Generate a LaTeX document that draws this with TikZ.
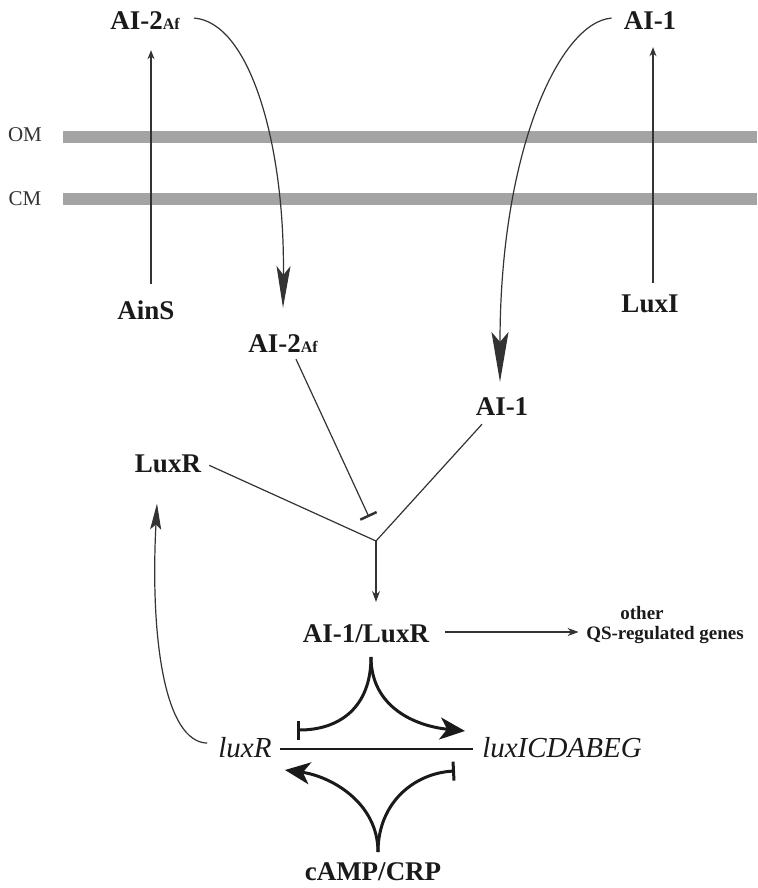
\documentclass[tikz,border=0pt]{standalone}
\usepackage{fontspec}
\setmainfont{Liberation Serif}
\usetikzlibrary{arrows.meta,calc}
\definecolor{ink}{HTML}{1A1A1A}
\definecolor{wire}{HTML}{333333}
\definecolor{membrane}{HTML}{A4A4A4}
\tikzset{
  lbl/.style={anchor=base, inner sep=2pt, text=ink, font=\fontsize{27}{31}\selectfont\bfseries},
  gene/.style={anchor=base, inner sep=2pt, text=ink, font=\fontsize{29}{33}\selectfont\itshape},
  note/.style={anchor=base, inner sep=0.5pt, text=ink, font=\fontsize{19}{22}\selectfont\bfseries},
  memlbl/.style={anchor=base, inner sep=2pt, text=wire, font=\fontsize{21}{24}\selectfont},
  wireline/.style={draw=wire, line width=1.2pt, line join=round},
  uparrow/.style={wireline, -{Stealth[length=9pt,width=7pt]}},
  smallarrow/.style={wireline, -{Stealth[length=11pt,width=8pt]}},
  cusp/.style={draw=ink, line width=3pt},
  cusparrow/.style={cusp, -{Stealth[length=25pt,width=22pt,inset=7pt]}},
  cuspbar/.style={cusp, -{Bar[width=19pt]}}
}
\newcommand{\subAf}{{\fontsize{16}{16}\selectfont Af}}
\begin{document}
\begin{tikzpicture}[x=1pt,y=-1pt]
\useasboundingbox (0,0) rectangle (757,888);

% membranes
\fill[membrane] (63,131) rectangle (757,142.5);
\fill[membrane] (63,193) rectangle (757,204.5);
\node[memlbl] (om) at (25,142) {OM};
\node[memlbl] (cm) at (25,205) {CM};

% signals and enzymes
\node[lbl] (ai2o) at (145,30) {AI-2\subAf};
\node[lbl] (ai1o) at (650,30) {AI-1};
\node[lbl] (ains) at (146,319) {AinS};
\node[lbl] (luxi) at (650,312) {LuxI};
\node[lbl] (ai2i) at (283,352) {AI-2\subAf};
\node[lbl] (ai1i) at (502,415) {AI-1};
\node[lbl] (luxrp) at (168,472) {LuxR};
\node[lbl] (cplx) at (366,642) {AI-1/LuxR};
\node[note] (oth) at (642,619) {other};
\node[note] (qs) at (665,639) {QS-regulated genes};
\node[gene] (luxrg) at (245,757) {luxR};
\node[gene] (luxop) at (562,757) {luxICDABEG};
\node[lbl] (camp) at (373,880) {cAMP/CRP};

% synthesis and export
\draw[uparrow] ([xshift=5pt,yshift=14pt]ains.north) -- ([xshift=6pt,yshift=-18pt]ai2o.south);
\draw[uparrow] ([xshift=3pt,yshift=9pt]luxi.north) -- ([xshift=3pt,yshift=-15pt]ai1o.south);

% diffusion back into the cell
\draw[wireline, -{Stealth[length=42pt,width=14pt,inset=9pt]}]
  ([xshift=12pt,yshift=3pt]ai2o.east) .. controls (250,22) and (285,145) .. ([yshift=24pt]ai2i.north);
\draw[wireline, -{Stealth[length=50pt,width=17pt,inset=10pt]}]
  ([xshift=-10pt,yshift=3pt]ai1o.west) .. controls (560,22) and (500,150) .. ([xshift=-2pt,yshift=13pt]ai1i.north);

% LuxR feedback
\draw[wireline, -{Stealth[length=26pt,width=11pt,inset=5pt]}]
  ([xshift=-9pt,yshift=4pt]luxrg.west) .. controls (165,742) and (150,640) .. ([xshift=-11pt,yshift=-29pt]luxrp.south);

% complex formation
\coordinate (jn) at (376,541);
\coordinate (inh) at (369,517);
\draw[wireline] ([xshift=6pt,yshift=-2pt]luxrp.east) -- (jn) -- ([xshift=-20pt,yshift=-7pt]ai1i.south);
\draw[wireline, -{Bar[width=18pt,line width=2.5pt]}] ([xshift=13pt,yshift=-5pt]ai2i.south) -- (inh);
\draw[smallarrow] (jn) -- ([xshift=10pt,yshift=20pt]cplx.north);

% other targets
\coordinate (oa) at ([xshift=14pt,yshift=10pt]cplx.base east);
\draw[smallarrow] (oa) -- ([xshift=-7pt]qs.west |- oa);

% lux operon regulation
\coordinate (hl) at ([xshift=6pt,yshift=8pt]luxrg.base east);
\draw[draw=ink, line width=2.5pt] (hl) -- ([xshift=-7pt]luxop.west |- hl);

\coordinate (uc) at ([xshift=5pt,yshift=-15pt]cplx.base);
\coordinate (ulb) at (297,730);
\coordinate (ura) at (465,731);
\draw[cuspbar] (uc) .. controls +(0,50) and +(43,0) .. (ulb);
\draw[cusparrow] (uc) .. controls +(0,50) and +(-50,-5) .. (ura);

\coordinate (lc) at ([xshift=5pt,yshift=28pt]camp.base);
\coordinate (lla) at (285,770);
\coordinate (lrb) at (455,771);
\draw[cusparrow] (lc) .. controls +(0,-50) and +(45,6) .. (lla);
\draw[cuspbar] (lc) .. controls +(0,-50) and +(-40,2) .. (lrb);
\end{tikzpicture}
\end{document}
